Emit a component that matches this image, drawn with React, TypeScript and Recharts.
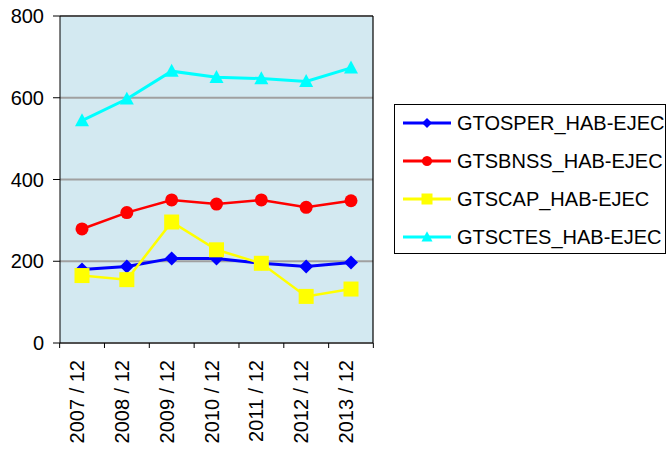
import React from "react";
import { CartesianGrid, Legend, Line, LineChart, XAxis, YAxis } from "recharts";

const categories = ["2007 / 12", "2008 / 12", "2009 / 12", "2010 / 12", "2011 / 12", "2012 / 12", "2013 / 12"];
const gtosper = [180, 187, 207, 207, 195, 187, 197];
const gtsbnss = [279, 319, 350, 340, 350, 332, 348];
const gtscap = [165, 155, 296, 228, 195, 114, 132];
const gtsctes = [544, 597, 665, 650, 647, 640, 673];
const yTicks = [0, 200, 400, 600, 800];

const data = categories.map((cat, i) => ({
  cat,
  GTOSPER_HAB_EJEC: gtosper[i],
  GTSBNSS_HAB_EJEC: gtsbnss[i],
  GTSCAP_HAB_EJEC: gtscap[i],
  GTSCTES_HAB_EJEC: gtsctes[i],
}));

type Shape = "diamond" | "circle" | "square" | "triangle";

const series: { key: string; name: string; color: string; shape: Shape; width: number }[] = [
  { key: "GTOSPER_HAB_EJEC", name: "GTOSPER_HAB-EJEC", color: "#0000FF", shape: "diamond", width: 3 },
  { key: "GTSBNSS_HAB_EJEC", name: "GTSBNSS_HAB-EJEC", color: "#FF0000", shape: "circle", width: 2.5 },
  { key: "GTSCAP_HAB_EJEC", name: "GTSCAP_HAB-EJEC", color: "#FFFF00", shape: "square", width: 2.5 },
  { key: "GTSCTES_HAB_EJEC", name: "GTSCTES_HAB-EJEC", color: "#00FFFF", shape: "triangle", width: 3 },
];

const FONT = "'Liberation Sans', Arial, sans-serif";
const STEP = 313 / 7;

const marker = (shape: Shape, cx: number, cy: number, color: string, s: number, key?: string) => {
  if (shape === "diamond")
    return <polygon key={key} points={`${cx},${cy - s} ${cx + s},${cy} ${cx},${cy + s} ${cx - s},${cy}`} fill={color} />;
  if (shape === "circle") return <circle key={key} cx={cx} cy={cy} r={s * 0.93} fill={color} />;
  if (shape === "square") return <rect key={key} x={cx - s} y={cy - s} width={s * 2} height={s * 2} fill={color} />;
  return <polygon key={key} points={`${cx},${cy - s * 1.05} ${cx + s},${cy + s * 0.8} ${cx - s},${cy + s * 0.8}`} fill={color} />;
};

const makeDot = (shape: Shape, color: string) => (props: any) => {
  const size = shape === "square" ? 7.5 : 7;
  if (props.cx == null || props.cy == null) return <g key={`d-${props.index}`} />;
  return marker(shape, props.cx, props.cy, color, size, `d-${props.index}`);
};

const XTick = (props: any) => {
  const { x, y, payload, index } = props;
  return (
    <g>
      <line x1={x - STEP / 2} y1={y} x2={x - STEP / 2} y2={y + 5} stroke="#000" />
      {index === categories.length - 1 && <line x1={x + STEP / 2} y1={y} x2={x + STEP / 2} y2={y + 5} stroke="#000" />}
      <text x={x + 2} y={y + 17} transform={`rotate(-90, ${x + 2}, ${y + 17})`} textAnchor="end" fontSize={20} fill="#000" fontFamily={FONT}>
        {payload.value}
      </text>
    </g>
  );
};

const LegendBox = () => (
  <div style={{ width: 272, height: 150, border: "1px solid #000", background: "#fff", boxSizing: "border-box" }}>
    <svg width={272} height={150}>
      {series.map((s, i) => {
        const cy = 18 + i * 38;
        return (
          <g key={s.key}>
            <line x1={8} x2={56} y1={cy} y2={cy} stroke={s.color} strokeWidth={3} />
            {marker(s.shape, 32, cy, s.color, s.shape === "diamond" ? 5 : 5.5)}
            <text x={62} y={cy + 7} fontSize={20} fill="#000" fontFamily={FONT}>
              {s.name}
            </text>
          </g>
        );
      })}
    </svg>
  </div>
);

export default function App() {
  return (
    <div style={{ position: "absolute", left: 0, top: 0, width: 668, height: 452, background: "#fff", fontFamily: FONT }}>
      <LineChart width={668} height={452} data={data} margin={{ top: 16, right: 295, bottom: 0, left: 0 }}>
        <CartesianGrid vertical={false} stroke="#A0A0A0" strokeWidth={2} fill="#D3E9F1" />
        {/* plot frame: top and right edges */}
        <CartesianGrid
          stroke="#000"
          strokeWidth={1.2}
          horizontalCoordinatesGenerator={({ offset }: any) => [offset.top]}
          verticalCoordinatesGenerator={({ offset }: any) => [offset.left + offset.width]}
        />
        <XAxis
          dataKey="cat"
          height={109}
          padding={{ left: 22, right: 22 }}
          tickLine={false}
          tickSize={0}
          tickMargin={0}
          axisLine={{ stroke: "#000" }}
          interval={0}
          tick={<XTick />}
        />
        <YAxis
          width={60}
          domain={[0, 800]}
          ticks={yTicks}
          tickSize={7}
          tickMargin={9}
          axisLine={{ stroke: "#000" }}
          tickLine={{ stroke: "#000" }}
          tick={{ fontSize: 20, fill: "#000", fontFamily: FONT }}
        />
        {series.map((s) => (
          <Line
            key={s.key}
            dataKey={s.key}
            name={s.name}
            stroke={s.color}
            strokeWidth={s.width}
            dot={makeDot(s.shape, s.color)}
            activeDot={false}
            isAnimationActive={false}
          />
        ))}
        <Legend
          layout="horizontal"
          verticalAlign="middle"
          align="center"
          wrapperStyle={{ left: 394, top: 104, width: 272, height: 150 }}
          content={() => <LegendBox />}
        />
      </LineChart>
    </div>
  );
}
